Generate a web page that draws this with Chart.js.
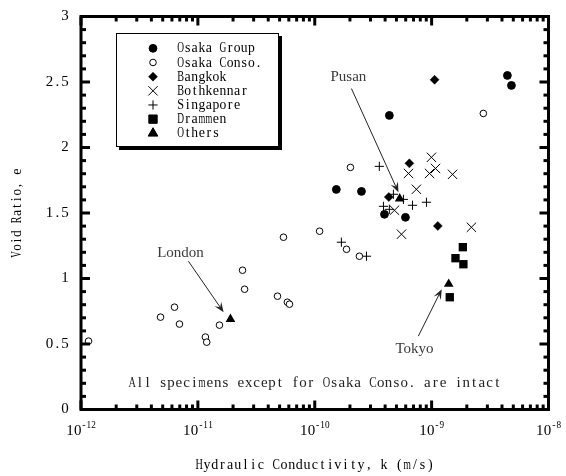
<!DOCTYPE html>
<html>
<head>
<meta charset="utf-8">
<script src="https://cdn.jsdelivr.net/npm/chart.js@4/dist/chart.umd.min.js"></script>
<style>
  html, body { margin: 0; padding: 0; background: #fff; }
  #wrap { width: 566px; height: 476px; }
</style>
</head>
<body>
<div id="wrap"><canvas id="c" width="566" height="476"></canvas></div>
<script>
// Hydraulic conductivity k (m/s) against void ratio e, by site
const seriesNames = ['Osaka Group', 'Osaka Conso.', 'Bangkok', 'Bothkennar', 'Singapore', 'Drammen', 'Others'];

const osakaGroupK = [1.53e-10, 2.51e-10, 3.95e-10, 5.97e-10, 4.35e-10, 4.45e-9, 4.82e-9];
const osakaGroupE = [1.68, 1.665, 1.49, 1.467, 2.245, 2.55, 2.474];

const osakaConsoK = [1.16e-12, 4.79e-12, 6.31e-12, 6.96e-12, 1.16e-11, 1.19e-11, 1.53e-11, 2.41e-11, 2.51e-11,
                     4.80e-11, 5.83e-11, 6.08e-11, 5.40e-11, 1.10e-10, 1.87e-10, 2.41e-10, 2.02e-10, 2.77e-9];
const osakaConsoE = [0.522, 0.705, 0.781, 0.652, 0.553, 0.514, 0.644, 1.063, 0.918,
                     0.865, 0.819, 0.804, 1.315, 1.361, 1.223, 1.17, 1.848, 2.26];

const bangkokK = [1.06e-9, 6.45e-10, 4.30e-10, 1.13e-9];
const bangkokE = [2.517, 1.879, 1.622, 1.401];

const bothkennarK = [9.96e-10, 6.34e-10, 9.6e-10, 1.08e-9, 1.51e-9, 7.41e-10, 4.81e-10, 5.52e-10, 2.19e-9];
const bothkennarE = [1.925, 1.802, 1.802, 1.84, 1.795, 1.681, 1.521, 1.338, 1.391];

const singaporeK = [3.57e-10, 4.71e-10, 5.74e-10, 6.86e-10, 9.03e-10, 3.87e-10, 4.35e-10, 1.69e-10, 2.77e-10];
const singaporeE = [1.856, 1.643, 1.604, 1.559, 1.582, 1.551, 1.528, 1.277, 1.17];

const drammenK = [1.85e-9, 1.60e-9, 1.87e-9, 1.43e-9];
const drammenE = [1.239, 1.155, 1.109, 0.857];

// Pusan, Tokyo, London
const othersK = [5.33e-10, 1.40e-9, 1.90e-11];
const othersE = [1.61, 0.958, 0.69];

// axis ticks
const xTickExponents = [-12, -11, -10, -9, -8];
const yTickValues = [0, 0.5, 1, 1.5, 2, 2.5, 3];
const yTickLabels = ['0', '0.5', '1', '1.5', '2', '2.5', '3'];

// callouts: label position and arrow (tail -> head) in data units
const calloutText = ['Pusan', 'London', 'Tokyo'];
const calloutLabelK = [1.94e-10, 7.1e-12, 7.13e-10];
const calloutLabelE = [2.534, 1.193, 0.461];
const calloutTailK = [2.06e-10, 8.3e-12, 7.7e-10];
const calloutTailE = [2.45, 1.132, 0.56];
const calloutHeadK = [5.2e-10, 1.66e-11, 1.22e-9];
const calloutHeadE = [1.658, 0.743, 0.918];

const noteText = 'All specimens except for Osaka Conso. are intact';
const xTitle = 'Hydraulic Conductivity, k (m/s)';
const yTitle = 'Void Ratio, e';

// marker appearance per series
const markerStyle = [
  { pointStyle: 'circle',   radius: 3.9, fill: '#000', stroke: '#000', width: 1 },
  { pointStyle: 'circle',   radius: 3.3, fill: '#fff', stroke: '#000', width: 1 },
  { pointStyle: 'rectRot',  radius: 4.5, fill: '#000', stroke: '#000', width: 0.5 },
  { pointStyle: 'crossRot', radius: 6.6, fill: '#000', stroke: '#000', width: 1 },
  { pointStyle: 'cross',    radius: 4.6, fill: '#000', stroke: '#000', width: 1 },
  { pointStyle: 'rect',     radius: 5.9, fill: '#000', stroke: '#000', width: 0 },
  { pointStyle: 'triangle', radius: 5.6, fill: '#000', stroke: '#000', width: 0 }
];

const seriesK = [osakaGroupK, osakaConsoK, bangkokK, bothkennarK, singaporeK, drammenK, othersK];
const seriesE = [osakaGroupE, osakaConsoE, bangkokE, bothkennarE, singaporeE, drammenE, othersE];

const datasets = seriesNames.map((name, i) => ({
  label: name,
  data: seriesK[i].map((k, j) => ({ x: k, y: seriesE[i][j] })),
  pointStyle: markerStyle[i].pointStyle,
  pointRadius: markerStyle[i].radius,
  pointBackgroundColor: markerStyle[i].fill,
  pointBorderColor: markerStyle[i].stroke,
  pointBorderWidth: markerStyle[i].width,
  showLine: false,
  clip: false
}));

const SERIF = '"Liberation Serif", "DejaVu Serif", serif';

// Fixed-pitch text: each character is centred in a cell of equal width;
// glyphs wider than the cell are squeezed horizontally to fit it
function drawMono(ctx, text, x, y, advance, align) {
  const total = text.length * advance;
  let start = x;
  if (align === 'center') start = x - total / 2;
  else if (align === 'right') start = x - total;
  ctx.textAlign = 'center';
  const room = advance * 0.96;
  for (let i = 0; i < text.length; i++) {
    const cx = start + advance * (i + 0.5);
    const w = ctx.measureText(text[i]).width;
    if (w > room) {
      ctx.save();
      ctx.translate(cx, y);
      ctx.scale(room / w, 1);
      ctx.fillText(text[i], 0, 0);
      ctx.restore();
    } else {
      ctx.fillText(text[i], cx, y);
    }
  }
}

function drawMarker(ctx, style, x, y) {
  ctx.fillStyle = style.fill;
  ctx.strokeStyle = style.stroke;
  ctx.lineWidth = style.width || 1;
  const opts = { pointStyle: style.pointStyle, radius: style.radius, rotation: 0, borderWidth: style.width || 1 };
  if (Chart.helpers && Chart.helpers.drawPoint) {
    Chart.helpers.drawPoint(ctx, opts, x, y);
  } else {
    ctx.beginPath();
    ctx.arc(x, y, style.radius, 0, Math.PI * 2);
    ctx.fill();
    ctx.stroke();
  }
}

function drawArrow(ctx, x1, y1, x2, y2) {
  const ang = Math.atan2(y2 - y1, x2 - x1);
  const len = 10, half = 4, notch = 6;
  ctx.beginPath();
  ctx.moveTo(x1, y1);
  ctx.lineTo(x2 - Math.cos(ang) * notch, y2 - Math.sin(ang) * notch);
  ctx.stroke();
  const bx = x2 - Math.cos(ang) * len, by = y2 - Math.sin(ang) * len;
  const nx = -Math.sin(ang), ny = Math.cos(ang);
  ctx.beginPath();
  ctx.moveTo(x2, y2);
  ctx.lineTo(bx + nx * half, by + ny * half);
  ctx.lineTo(x2 - Math.cos(ang) * notch, y2 - Math.sin(ang) * notch);
  ctx.lineTo(bx - nx * half, by - ny * half);
  ctx.closePath();
  ctx.fill();
}

const decorations = {
  id: 'decorations',
  afterDatasetsDraw(chart) {
    const { ctx, chartArea: a, scales: { x, y } } = chart;
    ctx.save();
    ctx.textBaseline = 'middle';

    // callouts
    ctx.strokeStyle = '#222';
    ctx.fillStyle = '#222';
    ctx.lineWidth = 1;
    calloutText.forEach((t, i) => {
      drawArrow(ctx,
        x.getPixelForValue(calloutTailK[i]), y.getPixelForValue(calloutTailE[i]),
        x.getPixelForValue(calloutHeadK[i]), y.getPixelForValue(calloutHeadE[i]));
      ctx.fillStyle = '#3a3a3a';
      ctx.font = '15px ' + SERIF;
      ctx.textAlign = 'center';
      ctx.fillText(t, x.getPixelForValue(calloutLabelK[i]), y.getPixelForValue(calloutLabelE[i]));
      ctx.fillStyle = '#222';
    });

    // note inside the plot
    ctx.fillStyle = '#222';
    ctx.font = '15px ' + SERIF;
    drawMono(ctx, noteText, (a.left + a.right) / 2, 383, 7.77, 'center');

    // legend box with drop shadow
    const lx = 116, ly = 33, lw = 163, lh = 114;
    ctx.fillStyle = '#000';
    ctx.fillRect(lx + 3, ly + 3, lw, lh);
    ctx.fillStyle = '#fff';
    ctx.fillRect(lx, ly, lw, lh);
    ctx.strokeStyle = '#000';
    ctx.lineWidth = 1;
    ctx.strokeRect(lx + 0.5, ly + 0.5, lw - 1, lh - 1);
    seriesNames.forEach((name, i) => {
      const ry = 48.3 + 14.17 * i;
      drawMarker(ctx, markerStyle[i], 153, ry);
      ctx.fillStyle = '#000';
      ctx.font = '14px ' + SERIF;
      drawMono(ctx, name, 177, ry + 0.5, 7.08, 'left');
    });

    // frame
    ctx.strokeStyle = '#000';
    ctx.lineWidth = 3;
    ctx.lineCap = 'butt';
    ctx.strokeRect(a.left, a.top, a.right - a.left, a.bottom - a.top);

    // x ticks (log decades with 2..9 minors) on bottom and top
    const tick = (x1, y1, x2, y2) => { ctx.beginPath(); ctx.moveTo(x1, y1); ctx.lineTo(x2, y2); ctx.stroke(); };
    xTickExponents.forEach((d, idx) => {
      const px = x.getPixelForValue(Math.pow(10, d));
      tick(px, a.bottom, px, a.bottom - 9);
      tick(px, a.top, px, a.top + 9);
      if (idx < xTickExponents.length - 1) {
        for (let m = 2; m <= 9; m++) {
          const mx = x.getPixelForValue(m * Math.pow(10, d));
          tick(mx, a.bottom, mx, a.bottom - 5);
          tick(mx, a.top, mx, a.top + 5);
        }
      }
    });
    // y ticks every 0.1, major every 0.5, on left and right
    for (let i = 0; i <= 30; i++) {
      const py = y.getPixelForValue(i / 10);
      const len = i % 5 === 0 ? 9 : 5;
      tick(a.left, py, a.left + len, py);
      tick(a.right, py, a.right - len, py);
    }

    // y tick labels
    ctx.fillStyle = '#000';
    ctx.font = '15px ' + SERIF;
    yTickValues.forEach((v, i) => {
      drawMono(ctx, yTickLabels[i], 69, y.getPixelForValue(v), 7.8, 'right');
    });

    // x tick labels: 10 with superscript exponent
    xTickExponents.forEach(d => {
      const px = x.getPixelForValue(Math.pow(10, d));
      const exp = '-' + Math.abs(d);
      const wBase = 2 * 7.8, wExp = exp.length * 4.8;
      const start = px - (wBase + wExp) / 2;
      ctx.font = '15px ' + SERIF;
      drawMono(ctx, '10', start, 431, 7.8, 'left');
      ctx.font = '10px ' + SERIF;
      drawMono(ctx, exp, start + wBase, 425, 4.8, 'left');
    });

    // axis titles
    ctx.font = '14px ' + SERIF;
    drawMono(ctx, xTitle, (a.left + a.right) / 2, 465, 7.7, 'center');
    ctx.save();
    ctx.translate(17, 213);
    ctx.rotate(-Math.PI / 2);
    drawMono(ctx, yTitle, 0, 0, 6.9, 'center');
    ctx.restore();

    ctx.restore();
  }
};

new Chart(document.getElementById('c'), {
  type: 'scatter',
  data: { datasets },
  options: {
    responsive: false,
    animation: false,
    devicePixelRatio: 1,
    events: [],
    layout: { padding: { left: 81, right: 17.5, top: 16.5, bottom: 66.5 } },
    plugins: { legend: { display: false }, tooltip: { enabled: false } },
    scales: {
      x: { type: 'logarithmic', min: 1e-12, max: 1e-8, display: false },
      y: { type: 'linear', min: 0, max: 3, display: false }
    }
  },
  plugins: [decorations]
});
</script>
</body>
</html>
